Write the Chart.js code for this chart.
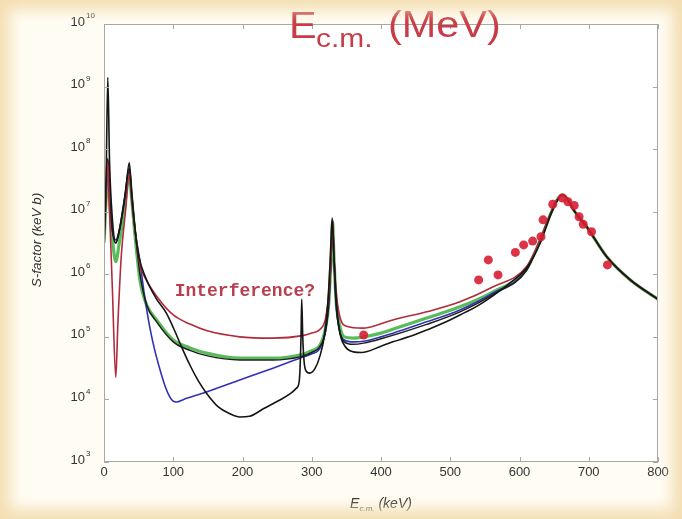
<!DOCTYPE html>
<html>
<head>
<meta charset="utf-8">
<script src="https://cdn.jsdelivr.net/npm/chart.js@4.4.1/dist/chart.umd.min.js"></script>
<style>
  html, body { margin: 0; padding: 0; background: #f6e4c0; }
  #wrap { position: relative; width: 682px; height: 519px; }
  #c { position: absolute; left: 0; top: 0; }
  #frame { position: absolute; left: 0; top: 0; width: 682px; height: 519px; pointer-events: none;
           box-shadow: inset 0 0 14px 10px #f4dfb4; }
</style>
</head>
<body>
<div id="wrap"><canvas id="c" width="682" height="519"></canvas><div id="frame"></div></div>
<script>
// ---- data (x: E_cm in keV, y: log10 of S-factor in keV b) ----
const xTicks = [0, 100, 200, 300, 400, 500, 600, 700, 800];
const yExponents = [3, 4, 5, 6, 7, 8, 9, 10];

const redE    = [0, 3, 5.5, 8, 12, 17, 20, 25, 31, 36.5, 40, 45, 52, 60, 76, 100, 125, 148, 196, 244, 287, 300, 312, 320, 325, 328, 330, 332, 335, 340, 350, 374, 398, 417, 466, 514, 562, 610, 630, 645, 655, 662, 668, 678, 697, 726, 760, 800];
const redLogS = [6.5, 7.2, 7.8, 7.0, 5.8, 4.35, 5.2, 6.3, 7.0, 7.6, 7.2, 6.7, 6.15, 5.93, 5.65, 5.35, 5.2, 5.1, 5.0, 4.98, 5.02, 5.06, 5.12, 5.3, 5.75, 6.3, 6.85, 6.3, 5.75, 5.35, 5.17, 5.14, 5.2, 5.27, 5.4, 5.56, 5.8, 6.12, 6.55, 6.97, 7.2, 7.27, 7.22, 7.03, 6.76, 6.28, 5.91, 5.6];

const greenE    = [0, 3, 5.5, 8, 12, 17, 22, 30, 36.5, 40, 45, 52, 62, 76, 100, 125, 148, 196, 244, 283, 300, 312, 320, 325, 328, 330, 332, 335, 340, 347, 360, 375, 400, 417, 466, 514, 562, 610, 630, 645, 655, 662, 668, 678, 697, 726, 760, 800];
const greenLogS = [6.5, 7.2, 7.8, 7.2, 6.6, 6.2, 6.5, 7.1, 7.6, 7.2, 6.6, 5.9, 5.5, 5.27, 4.95, 4.82, 4.74, 4.66, 4.66, 4.71, 4.78, 4.87, 5.15, 5.6, 6.3, 6.85, 6.3, 5.6, 5.2, 5.0, 4.98, 5.0, 5.06, 5.12, 5.3, 5.48, 5.72, 6.08, 6.55, 6.97, 7.2, 7.27, 7.22, 7.03, 6.76, 6.28, 5.91, 5.6];

const blueE    = [0, 3, 5.5, 8, 12, 17, 22, 30, 36.5, 40, 45, 52, 58, 66, 73, 81, 88, 95, 100, 105, 115, 148, 196, 244, 283, 300, 312, 320, 325, 328, 330, 332, 335, 340, 347, 360, 375, 400, 466, 514, 562, 610, 630, 645, 655, 662, 668, 678, 697, 726, 760, 800];
const blueLogS = [6.75, 7.3, 7.8, 7.2, 6.7, 6.55, 6.7, 7.2, 7.65, 7.2, 6.7, 6.2, 5.7, 5.16, 4.8, 4.47, 4.22, 4.04, 3.97, 3.96, 4.0, 4.12, 4.31, 4.5, 4.66, 4.73, 4.82, 5.1, 5.6, 6.3, 6.85, 6.3, 5.55, 5.1, 4.95, 4.92, 4.93, 5.0, 5.24, 5.43, 5.7, 6.07, 6.55, 6.97, 7.2, 7.27, 7.22, 7.03, 6.76, 6.28, 5.91, 5.6];

const blackAE    = [0, 3, 5.5, 8, 12, 17, 22, 30, 36.5, 40, 45, 52, 62, 76, 100, 125, 148, 196, 244, 283, 300, 312, 320, 325, 328, 330, 332, 335, 340, 347, 360, 375, 400, 466, 514, 562, 610, 630, 645, 655, 662, 668, 678, 697, 726, 760, 800];
const blackALogS = [6.6, 7.3, 7.85, 7.3, 6.7, 6.5, 6.7, 7.25, 7.7, 7.3, 6.7, 6.0, 5.5, 5.24, 4.92, 4.78, 4.7, 4.63, 4.63, 4.68, 4.75, 4.85, 5.1, 5.6, 6.3, 6.87, 6.3, 5.55, 5.1, 4.92, 4.88, 4.9, 4.97, 5.2, 5.4, 5.68, 6.06, 6.55, 6.97, 7.2, 7.27, 7.22, 7.03, 6.76, 6.28, 5.91, 5.6];

const blackBE    = [0, 3, 5.5, 8, 12, 17, 24, 31, 36.5, 40, 44, 50, 60, 75, 90, 100, 112, 124, 136, 148, 165, 182, 196, 210, 230, 254, 270, 278, 282, 284.5, 285.5, 287, 289, 292, 297, 305, 312, 318, 323, 327, 329.5, 332, 336, 341, 348, 360, 372, 400, 417, 440, 466, 490, 514, 540, 562, 585, 610, 630, 645, 655, 662, 668, 678, 697, 726, 760, 800];
const blackBLogS = [6.4, 7.5, 9.15, 7.8, 6.9, 6.5, 6.8, 7.3, 7.78, 7.3, 6.8, 6.3, 5.95, 5.62, 5.38, 5.15, 4.84, 4.55, 4.3, 4.1, 3.88, 3.77, 3.72, 3.73, 3.85, 3.99, 4.1, 4.18, 4.3, 5.0, 5.6, 5.0, 4.6, 4.45, 4.42, 4.5, 4.7, 5.0, 5.5, 6.3, 6.9, 6.3, 5.5, 5.05, 4.85, 4.76, 4.75, 4.85, 4.92, 5.0, 5.11, 5.22, 5.35, 5.5, 5.66, 5.85, 6.1, 6.5, 6.95, 7.18, 7.27, 7.22, 7.03, 6.76, 6.28, 5.91, 5.6];

const dataE    = [375, 541, 555, 569, 594, 606, 619, 631, 634, 648, 662, 670, 679, 686, 692, 704, 727];
const dataLogS = [5.03, 5.91, 6.23, 5.99, 6.35, 6.47, 6.53, 6.6, 6.87, 7.12, 7.22, 7.16, 7.1, 6.92, 6.8, 6.68, 6.15];

const annotationText = "Interference?";
const annotationE = 102;
const annotationLogS = 5.73;

function pts(xs, ys) { return xs.map((x, i) => ({ x: x, y: ys[i] })); }

const lineCommon = { showLine: true, pointRadius: 0, cubicInterpolationMode: 'monotone', fill: false };

const decorPlugin = {
  id: 'decor',
  beforeDraw(chart) {
    const ctx = chart.ctx, a = chart.chartArea;
    ctx.save();
    ctx.fillStyle = '#fffcf3';
    ctx.fillRect(0, 0, chart.width, chart.height);
    ctx.fillStyle = '#ffffff';
    ctx.fillRect(a.left, a.top, a.right - a.left, a.bottom - a.top);
    ctx.restore();
  },
  afterDatasetsDraw(chart) {
    const ctx = chart.ctx, a = chart.chartArea;
    const xs = chart.scales.x, ys = chart.scales.y;
    ctx.save();
    // box
    ctx.strokeStyle = '#a8a8a8';
    ctx.lineWidth = 1;
    ctx.strokeRect(a.left + 0.5, a.top + 0.5, a.right - a.left - 1, a.bottom - a.top - 1);
    // ticks
    ctx.beginPath();
    xTicks.forEach(v => {
      const px = Math.round(xs.getPixelForValue(v)) + 0.5;
      ctx.moveTo(px, a.bottom); ctx.lineTo(px, a.bottom - 5);
      ctx.moveTo(px, a.top); ctx.lineTo(px, a.top + 5);
    });
    yExponents.forEach(v => {
      const py = Math.round(ys.getPixelForValue(v)) + 0.5;
      ctx.moveTo(a.left, py); ctx.lineTo(a.left + 5, py);
      ctx.moveTo(a.right, py); ctx.lineTo(a.right - 5, py);
    });
    ctx.stroke();
    // x tick labels
    ctx.fillStyle = '#333';
    ctx.font = '13px "Liberation Sans", Arial, sans-serif';
    ctx.textAlign = 'center';
    ctx.textBaseline = 'middle';
    xTicks.forEach(v => ctx.fillText(String(v), xs.getPixelForValue(v), a.bottom + 10));
    // y tick labels 10^n
    yExponents.forEach(v => {
      const py = ys.getPixelForValue(v);
      ctx.font = '13px "Liberation Sans", Arial, sans-serif';
      ctx.textAlign = 'right';
      ctx.textBaseline = 'middle';
      ctx.fillText('10', a.left - 19, py - 2);
      ctx.font = '8px "Liberation Sans", Arial, sans-serif';
      ctx.textAlign = 'left';
      ctx.fillText(String(v), a.left - 18, py - 8);
    });
    // x axis title
    ctx.fillStyle = '#333';
    ctx.textBaseline = 'alphabetic';
    ctx.textAlign = 'left';
    const cx = (a.left + a.right) / 2;
    ctx.font = 'italic 14px "Liberation Sans", Arial, sans-serif';
    const w1 = ctx.measureText('E').width;
    ctx.font = 'italic 8px "Liberation Sans", Arial, sans-serif';
    const w2 = ctx.measureText('c.m.').width;
    ctx.font = 'italic 14px "Liberation Sans", Arial, sans-serif';
    const w3 = ctx.measureText(' (keV)').width;
    let sx = cx - (w1 + w2 + w3) / 2;
    const by = a.bottom + 46;
    ctx.fillText('E', sx, by);
    ctx.font = 'italic 8px "Liberation Sans", Arial, sans-serif';
    ctx.fillText('c.m.', sx + w1, by + 3);
    ctx.font = 'italic 14px "Liberation Sans", Arial, sans-serif';
    ctx.fillText(' (keV)', sx + w1 + w2, by);
    // y axis title
    ctx.save();
    ctx.translate(37, 240);
    ctx.rotate(-Math.PI / 2);
    ctx.textAlign = 'center';
    ctx.textBaseline = 'middle';
    ctx.font = 'italic 13.5px "Liberation Sans", Arial, sans-serif';
    ctx.fillText('S-factor (keV b)', 0, 0);
    ctx.restore();
    // title E_c.m. (MeV)
    ctx.save();
    ctx.fillStyle = '#c83c48';
    ctx.textAlign = 'left';
    ctx.textBaseline = 'alphabetic';
    ctx.scale(1.15, 1);
    ctx.font = '36px "Liberation Sans", Arial, sans-serif';
    ctx.fillText('E', 289 / 1.15, 38);
    ctx.font = '26px "Liberation Sans", Arial, sans-serif';
    ctx.fillText('c.m.', 316 / 1.15, 47);
    ctx.font = '36px "Liberation Sans", Arial, sans-serif';
    ctx.fillText('(MeV)', 388 / 1.15, 37);
    ctx.restore();
    // annotation
    ctx.fillStyle = '#b8404e';
    ctx.font = 'bold 18px "Liberation Mono", "DejaVu Sans Mono", monospace';
    ctx.textBaseline = 'middle';
    ctx.fillText(annotationText, xs.getPixelForValue(annotationE), ys.getPixelForValue(annotationLogS));
    ctx.restore();
  }
};

new Chart(document.getElementById('c'), {
  type: 'scatter',
  data: {
    datasets: [
      { ...lineCommon, label: 'black B', data: pts(blackBE, blackBLogS), borderColor: '#151515', borderWidth: 1.6, order: 1 },
      { ...lineCommon, label: 'red', data: pts(redE, redLogS), borderColor: '#b02c3c', borderWidth: 1.6, order: 2 },
      { ...lineCommon, label: 'black A', data: pts(blackAE, blackALogS), borderColor: '#1e1e1e', borderWidth: 1.5, order: 3 },
      { ...lineCommon, label: 'blue', data: pts(blueE, blueLogS), borderColor: '#3232b4', borderWidth: 1.6, order: 4 },
      { ...lineCommon, label: 'green', data: pts(greenE, greenLogS), borderColor: 'rgba(60,175,60,0.85)', borderWidth: 3.2, order: 5 },
      { label: 'data', data: pts(dataE, dataLogS), showLine: false, pointRadius: 4.5, pointBackgroundColor: 'rgba(215,30,50,0.9)', pointBorderWidth: 0, order: 0 }
    ]
  },
  options: {
    responsive: false,
    animation: false,
    layout: { padding: { left: 0, right: 24, top: 24, bottom: 0 } },
    plugins: { legend: { display: false }, tooltip: { enabled: false } },
    scales: {
      x: {
        type: 'linear', min: 0, max: 800,
        grid: { display: false }, border: { display: false },
        ticks: { display: false },
        afterFit(s) { s.height = 57; }
      },
      y: {
        type: 'linear', min: 3, max: 10,
        grid: { display: false }, border: { display: false },
        ticks: { display: false },
        afterFit(s) { s.width = 104; }
      }
    }
  },
  plugins: [decorPlugin]
});
</script>
</body>
</html>
